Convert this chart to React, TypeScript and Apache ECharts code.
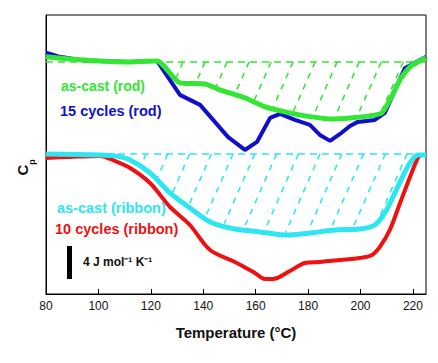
import React, { useEffect, useRef } from "react";
import * as echarts from "echarts";

// Temperature (°C) vs relative Cp (J mol^-1 K^-1, arbitrary offset)
const rod15Cycles: number[][] = [
  [80, 29.25], [85.3, 28.73], [93.0, 28.36], [100.6, 28.24], [112.1, 28.12], [119.7, 28.24],
  [122.4, 28.24], [131.1, 24.12], [138.8, 22.91], [149.4, 19.03], [155.9, 17.45], [160.5, 18.42],
  [165.5, 21.33], [169.3, 21.82], [175.0, 21.09], [180.7, 20.48], [184.5, 19.27], [188.4, 18.55],
  [192.2, 19.39], [196.0, 20.36], [199.0, 20.85], [205.5, 21.09], [209.3, 21.94], [213.2, 24.73],
  [217.0, 27.39], [220.8, 28.0], [225, 28.73],
];
const rodAsCast: number[][] = [
  [80, 28.73], [89.2, 28.48], [100.6, 28.24], [112.1, 28.12], [122.4, 28.24], [131.1, 25.58],
  [140.7, 25.45], [146.4, 24.73], [155.9, 23.76], [163.6, 22.67], [171.2, 22.06], [178.8, 21.58],
  [188.4, 21.21], [196.0, 21.33], [203.6, 21.58], [208.2, 21.94], [211.2, 23.52], [215.1, 25.94],
  [218.9, 27.52], [222.7, 28.24], [225, 28.61],
];
const ribbonAsCast: number[][] = [
  [80, 16.97], [100.6, 16.85], [106.3, 16.73], [112.1, 16.24], [119.7, 14.67], [127.3, 12.24],
  [134.9, 10.42], [142.6, 8.73], [152.1, 7.88], [161.6, 7.52], [171.2, 7.15], [180.7, 7.39],
  [190.3, 7.76], [199.8, 7.88], [205.5, 8.36], [209.3, 9.82], [212.4, 11.76], [215.1, 13.58],
  [218.9, 15.88], [221.9, 16.85], [225, 16.85],
];
const ribbon10Cycles: number[][] = [
  [80, 16.48], [89.2, 16.61], [100.6, 16.73], [106.3, 16.12], [112.1, 15.27], [119.7, 13.45],
  [127.3, 10.55], [134.9, 8.36], [142.6, 5.33], [152.1, 3.88], [159.7, 2.55], [163.6, 1.82],
  [166.6, 1.82], [173.1, 2.79], [178.8, 3.76], [184.5, 3.88], [192.2, 4.12], [199.8, 4.36],
  [204.4, 4.73], [207.4, 5.7], [211.2, 7.76], [215.1, 11.03], [218.9, 14.18], [221.9, 16.48],
  [223.5, 16.85], [225, 16.85],
];
const rodBaseline = 28.12;
const ribbonBaseline = 16.97;
const rodHatchStarts = [132.3, 140.7, 149.1, 157.5, 165.9, 174.3, 182.7, 191.1, 199.5, 207.9, 216.3, 224.7];
const ribbonHatchStarts = [109.9, 118.2, 126.5, 134.8, 143.1, 151.4, 159.7, 168.0, 176.3, 184.6, 192.9, 201.2, 209.5, 217.8];
const xTicks = { min: 80, max: 225, interval: 20 };
const scaleBarValue = 4;

const GREEN = "#33e633";
const BLUE = "#1010cc";
const CYAN = "#2ee6f2";
const RED = "#ee1111";
const FONT = "'Liberation Sans', Arial, sans-serif";

function hatchRenderer(curve: number[][], baseline: number, color: string) {
  return (params: any, api: any) => {
    const x0 = api.value(0);
    const top = api.coord([x0, baseline]);
    const pts = curve.map((p) => api.coord(p));
    const curveY = (px: number) => {
      for (let i = 0; i < pts.length - 1; i++) {
        const a = pts[i], b = pts[i + 1];
        if (px >= a[0] && px <= b[0]) {
          const t = (px - a[0]) / (b[0] - a[0] || 1);
          return a[1] + t * (b[1] - a[1]);
        }
      }
      return pts[pts.length - 1][1];
    };
    const K = 0.44;
    let ex = top[0], ey = top[1];
    for (let s = 0; s < 400; s += 0.5) {
      const yy = top[1] + s;
      const xx = top[0] - K * s;
      if (xx < pts[0][0]) break;
      if (yy >= curveY(xx) - 2) break;
      ex = xx;
      ey = yy;
    }
    if (ey - top[1] < 3) return null;
    return {
      type: "line",
      shape: { x1: top[0], y1: top[1], x2: ex, y2: ey },
      style: { stroke: color, lineWidth: 1.5, lineDash: [6, 6] },
    };
  };
}

export default function App() {
  const ref = useRef<HTMLDivElement>(null);
  useEffect(() => {
    if (!ref.current) return;
    const chart = echarts.init(ref.current, null, { renderer: "svg" });
    const lineSeries = (data: number[][], color: string, width: number, smooth: number, z: number) => ({
      type: "line",
      data,
      smooth,
      symbol: "none",
      lineStyle: { color, width },
      z,
    });
    const baseSeries = (y: number, color: string) => ({
      type: "line",
      data: [[80, y], [225, y]],
      symbol: "none",
      lineStyle: { color, width: 1.5, type: [7, 5] },
      z: 1,
    });
    chart.setOption({
      animation: false,
      backgroundColor: "#fff",
      grid: { left: 46, right: 12, top: 15, bottom: 69, show: true, borderColor: "#000", borderWidth: 1 },
      xAxis: {
        type: "value",
        min: xTicks.min,
        max: xTicks.max,
        interval: xTicks.interval,
        name: "Temperature (°C)",
        nameLocation: "middle",
        nameGap: 31,
        nameTextStyle: { fontFamily: FONT, fontWeight: "bold", fontSize: 15, color: "#111" },
        axisLine: { lineStyle: { color: "#000", width: 1 } },
        axisTick: { inside: true, length: 5, lineStyle: { color: "#000" } },
        axisLabel: { fontFamily: FONT, fontSize: 12, color: "#111", margin: 6 },
        splitLine: { show: false },
      },
      yAxis: {
        type: "value",
        min: 0,
        max: 33.8,
        axisLine: { show: true, lineStyle: { color: "#000", width: 1 } },
        axisTick: { show: false },
        axisLabel: { show: false },
        splitLine: { show: false },
      },
      series: [
        baseSeries(rodBaseline, GREEN),
        baseSeries(ribbonBaseline, CYAN),
        {
          type: "custom",
          renderItem: hatchRenderer(rodAsCast, rodBaseline, GREEN),
          data: rodHatchStarts.map((x) => [x, rodBaseline]),
          encode: { x: 0, y: 1 },
          z: 1,
        },
        {
          type: "custom",
          renderItem: hatchRenderer(ribbonAsCast, ribbonBaseline, CYAN),
          data: ribbonHatchStarts.map((x) => [x, ribbonBaseline]),
          encode: { x: 0, y: 1 },
          z: 1,
        },
        lineSeries(rod15Cycles, BLUE, 4, 0, 2),
        lineSeries(rodAsCast, GREEN, 5, 0.2, 3),
        lineSeries(ribbon10Cycles, RED, 4, 0.3, 2),
        lineSeries(ribbonAsCast, CYAN, 5, 0.3, 3),
      ],
      graphic: [
        { type: "text", left: 61, top: 79, style: { text: "as-cast (rod)", fill: GREEN, font: `bold 14px ${FONT}` } },
        { type: "text", left: 60, top: 103.5, style: { text: "15 cycles (rod)", fill: BLUE, font: `bold 14.5px ${FONT}` } },
        { type: "text", left: 57, top: 200, style: { text: "as-cast (ribbon)", fill: CYAN, font: `bold 14.5px ${FONT}` } },
        { type: "text", left: 55, top: 221, style: { text: "10 cycles (ribbon)", fill: RED, font: `bold 14.5px ${FONT}` } },
        { type: "rect", shape: { x: 67, y: 246, width: 5, height: scaleBarValue * 8.25 }, style: { fill: "#000" } },
        { type: "text", left: 83, top: 256, style: { text: `${scaleBarValue} J mol⁻¹ K⁻¹`, fill: "#111", font: `bold 12px ${FONT}` } },
        {
          type: "text",
          x: 30,
          y: 170,
          rotation: Math.PI / 2,
          style: { text: "C", fill: "#111", font: `bold 15px ${FONT}`, align: "center", verticalAlign: "bottom" },
        },
        {
          type: "text",
          x: 36,
          y: 162,
          rotation: Math.PI / 2,
          style: { text: "p", fill: "#111", font: `bold 9px ${FONT}`, align: "center", verticalAlign: "bottom" },
        },
      ],
    });
    return () => chart.dispose();
  }, []);
  return <div ref={ref} style={{ position: "absolute", left: 0, top: 0, width: 438, height: 363 }} />;
}
